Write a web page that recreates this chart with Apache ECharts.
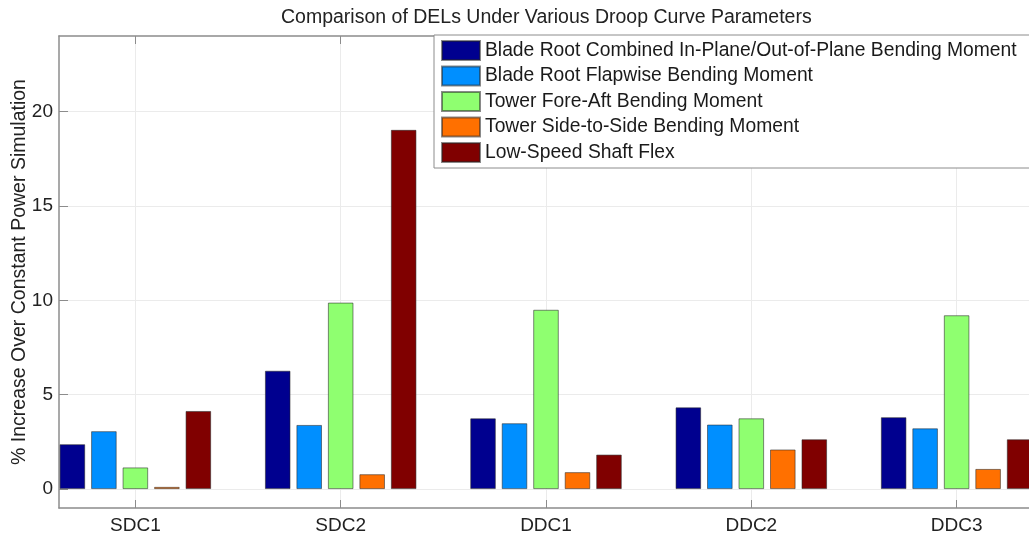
<!DOCTYPE html>
<html>
<head>
<meta charset="utf-8">
<script src="https://cdn.jsdelivr.net/npm/echarts@6/dist/echarts.min.js"></script>
<style>
  html, body { margin: 0; padding: 0; background: #fff; }
  #chart { width: 1029px; height: 535px; }
</style>
</head>
<body>
<div id="chart"></div>
<script>
// Droop curve cases along the x axis
const categories = ['SDC1', 'SDC2', 'DDC1', 'DDC2', 'DDC3'];

// Load channels (one bar series each)
const seriesNames = [
  'Blade Root Combined In-Plane/Out-of-Plane Bending Moment',
  'Blade Root Flapwise Bending Moment',
  'Tower Fore-Aft Bending Moment',
  'Tower Side-to-Side Bending Moment',
  'Low-Speed Shaft Flex'
];

// % increase in DEL over the constant power simulation
const bladeCombined = [2.38, 6.27, 3.75, 4.33, 3.81];
const bladeFlapwise = [3.07, 3.40, 3.49, 3.42, 3.22];
const towerForeAft  = [1.15, 9.88, 9.50, 3.75, 9.21];
const towerSide     = [0.12, 0.79, 0.90, 2.10, 1.07];
const shaftFlex     = [4.14, 19.03, 1.83, 2.64, 2.64];

const yTicks = [0, 5, 10, 15, 20];
const xTicks = [1, 2, 3, 4, 5];

const seriesValues = [bladeCombined, bladeFlapwise, towerForeAft, towerSide, shaftFlex];
const seriesColors = ['#00008f', '#008fff', '#8fff70', '#ff7000', '#800000'];

const FONT = 'Liberation Sans, Arial, sans-serif';
const AXIS_GRAY = '#8c8c8c';
const GRID_GRAY = '#ebebeb';

const chart = echarts.init(document.getElementById('chart'), null, { renderer: 'canvas' });

const series = seriesNames.map((name, s) => ({
  name: name,
  type: 'bar',
  xAxisIndex: 0,
  yAxisIndex: 0,
  barWidth: 25.6,
  barGap: '23%',
  itemStyle: {
    color: seriesColors[s],
    borderColor: 'rgba(40,40,40,0.55)',
    borderWidth: 1
  },
  emphasis: { disabled: true },
  data: seriesValues[s].map((v, i) => [i + 1, v])
}));

const option = {
  animation: false,
  backgroundColor: '#ffffff',
  textStyle: { fontFamily: FONT },
  title: {
    text: 'Comparison of DELs Under Various Droop Curve Parameters',
    left: 276,
    top: 3,
    textStyle: { fontFamily: FONT, fontSize: 19.5, fontWeight: 'normal', color: '#222' }
  },
  legend: {
    orient: 'vertical',
    left: 434,
    top: 35,
    padding: [5, 40, 5, 7],
    itemWidth: 38,
    itemHeight: 19,
    itemGap: 4.5,
    icon: 'rect',
    backgroundColor: '#ffffff',
    borderColor: AXIS_GRAY,
    borderWidth: 1,
    selectedMode: false,
    textStyle: { fontFamily: FONT, fontSize: 19.3, color: '#1a1a1a', lineHeight: 19 },
    data: seriesNames
  },
  grid: { left: 59, right: -4, top: 36, bottom: 27, containLabel: false, outerBoundsMode: 'none' },
  xAxis: [
    {
      type: 'value',
      position: 'bottom',
      min: 0.628,
      max: 5.372,
      axisLine: { show: true, onZero: false, lineStyle: { color: AXIS_GRAY, width: 1.5 } },
      axisTick: { show: true, inside: true, length: 8, customValues: xTicks, lineStyle: { color: AXIS_GRAY } },
      axisLabel: {
        customValues: xTicks,
        margin: 8,
        fontFamily: FONT,
        fontSize: 19,
        color: '#222',
        formatter: v => categories[Math.round(v) - 1]
      },
      splitLine: { show: true, lineStyle: { color: GRID_GRAY, width: 1 } }
    },
    {
      type: 'value',
      position: 'top',
      min: 0.628,
      max: 5.372,
      axisLine: { show: true, onZero: false, lineStyle: { color: AXIS_GRAY, width: 1.5 } },
      axisTick: { show: true, inside: true, length: 8, customValues: xTicks, lineStyle: { color: AXIS_GRAY } },
      axisLabel: { show: false },
      splitLine: { show: false }
    }
  ],
  yAxis: {
    type: 'value',
    min: -1,
    max: 24,
    name: '% Increase Over Constant Power Simulation',
    nameLocation: 'middle',
    nameGap: 29,
    nameMoveOverlap: false,
    nameTextStyle: { fontFamily: FONT, fontSize: 19.5, color: '#222' },
    axisLine: { show: true, onZero: false, lineStyle: { color: AXIS_GRAY, width: 1.5 } },
    axisTick: { show: true, inside: true, length: 9, customValues: yTicks, lineStyle: { color: AXIS_GRAY } },
    axisLabel: { customValues: yTicks, margin: 6, fontFamily: FONT, fontSize: 19, color: '#222' },
    splitLine: { show: true, lineStyle: { color: GRID_GRAY, width: 1 } }
  },
  series: series
};

chart.setOption(option);
</script>
</body>
</html>
